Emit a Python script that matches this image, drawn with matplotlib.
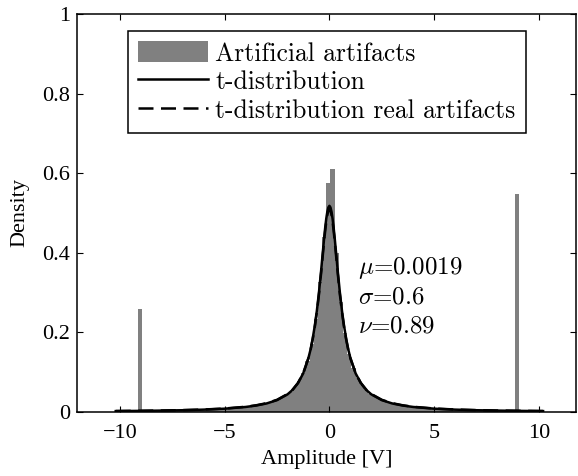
import numpy as np
import matplotlib.pyplot as plt
from matplotlib.patches import Patch
from matplotlib.lines import Line2D

plt.rcParams['mathtext.fontset'] = 'cm'

# histogram of artificial artifacts, bin width 0.2
bin_width = 0.2
hist_left = [0.001, 0.002, 0.002, 0.002, 0.002, 0.26, 0.0029, 0.0030, 0.0031, 0.0033,
             0.0034, 0.0036, 0.0038, 0.0040, 0.0042, 0.0044, 0.0046, 0.0049, 0.0052, 0.0055,
             0.0058, 0.0062, 0.0066, 0.0071, 0.0076, 0.0082, 0.0087, 0.0094, 0.0103, 0.0112,
             0.0123, 0.0136, 0.0150, 0.0166, 0.0185, 0.0208, 0.0235, 0.027, 0.031, 0.036,
             0.042, 0.051, 0.062, 0.077, 0.097, 0.127, 0.170, 0.234, 0.326, 0.44, 0.575]
hist_right = [0.61, 0.40, 0.276, 0.199, 0.146, 0.110, 0.086, 0.069, 0.056, 0.046,
              0.039, 0.033, 0.029, 0.025, 0.022, 0.0196, 0.0175, 0.0157, 0.0142, 0.0129,
              0.0117, 0.0107, 0.0098, 0.0091, 0.0084, 0.0079, 0.0073, 0.0068, 0.0064, 0.0060,
              0.0057, 0.0053, 0.0050, 0.0048, 0.0045, 0.0043, 0.0041, 0.0039, 0.0037, 0.0035,
              0.0034, 0.0032, 0.0031, 0.0030, 0.547, 0.002, 0.002, 0.002, 0.002, 0.001]
hist_heights = hist_left + hist_right
first_center = -10.05

# fitted t-distribution (solid)
t_x = [-10.2, -9, -8, -7, -6, -5, -4, -3.5, -3, -2.5, -2, -1.75, -1.5, -1.25, -1.0, -0.9,
       -0.8, -0.7, -0.6, -0.5, -0.4, -0.3, -0.25, -0.2, -0.15, -0.1, -0.05, 0,
       0.05, 0.1, 0.15, 0.2, 0.25, 0.3, 0.4, 0.5, 0.6, 0.7, 0.8, 0.9, 1.0, 1.25,
       1.5, 1.75, 2, 2.5, 3, 3.5, 4, 5, 6, 7, 8, 9, 10.2]
t_y = [0.0022, 0.0028, 0.0035, 0.0044, 0.0059, 0.0083, 0.0126, 0.0162, 0.0214, 0.0298, 0.0443,
       0.0558, 0.0724, 0.0971, 0.136, 0.157, 0.184, 0.216, 0.254, 0.300, 0.353, 0.410, 0.438,
       0.464, 0.486, 0.503, 0.514, 0.518,
       0.514, 0.503, 0.486, 0.464, 0.438, 0.410, 0.353, 0.300, 0.254, 0.216, 0.184, 0.157,
       0.136, 0.0971, 0.0724, 0.0558, 0.0443, 0.0298, 0.0214, 0.0162, 0.0126, 0.0083,
       0.0059, 0.0044, 0.0035, 0.0028, 0.0022]

# t-distribution of the real artifacts (dashed)
r_y = [0.0024, 0.0030, 0.0037, 0.0047, 0.0062, 0.0087, 0.0131, 0.0168, 0.0221, 0.0306, 0.0452,
       0.0566, 0.0731, 0.0975, 0.135, 0.156, 0.182, 0.213, 0.250, 0.295, 0.347, 0.403, 0.431,
       0.456, 0.478, 0.495, 0.506, 0.510,
       0.506, 0.495, 0.478, 0.456, 0.431, 0.403, 0.347, 0.295, 0.250, 0.213, 0.182, 0.156,
       0.135, 0.0975, 0.0731, 0.0566, 0.0452, 0.0306, 0.0221, 0.0168, 0.0131, 0.0087,
       0.0062, 0.0047, 0.0037, 0.0030, 0.0024]

params = [r'$\mu$=0.0019', r'$\sigma$=0.6', r'$\nu$=0.89']

centers = first_center + bin_width * np.arange(len(hist_heights))

fig = plt.figure(figsize=(5.78, 4.76), dpi=100)
ax = fig.add_axes([0.1332, 0.1345, 0.8633, 0.8361])

ax.bar(centers, hist_heights, width=bin_width, color='#808080', linewidth=0)
ax.plot(t_x, t_y, color='black', linewidth=1.8)
ax.plot(t_x, r_y, color='black', linewidth=1.8, linestyle=(0, (6, 3)))

ax.set_xlim(-12.05, 11.77)
ax.set_ylim(0, 1)
ax.set_xticks([-10, -5, 0, 5, 10])
ax.set_xticklabels(['\u221210', '\u22125', '0', '5', '10'])
ax.set_yticks([0, 0.2, 0.4, 0.6, 0.8, 1])
ax.set_yticklabels(['0', '0.2', '0.4', '0.6', '0.8', '1'])
ax.tick_params(direction='in', length=4, width=0.8, top=True, right=True, labelsize=16)
ax.tick_params(axis='x', pad=9)
ax.tick_params(axis='y', pad=5)
for lab in ax.get_xticklabels() + ax.get_yticklabels():
    lab.set_fontfamily('Liberation Serif')
for s in ax.spines.values():
    s.set_linewidth(1.1)

ax.set_xlabel('Amplitude [V]', fontsize=16, family='Liberation Serif', labelpad=5)
ax.set_ylabel('Density', fontsize=16, family='Liberation Serif', labelpad=9)

for i, txt in enumerate(params):
    ax.text(1.36, 0.362 - 0.073 * i, txt, fontsize=18, family='cmr10', va='center')

handles = [Patch(facecolor='#808080', edgecolor='none'),
           Line2D([], [], color='black', linewidth=1.8),
           Line2D([], [], color='black', linewidth=1.8, linestyle=(0, (6, 3)))]
labels = ['Artificial artifacts', 't-distribution', 't-distribution real artifacts']
leg = ax.legend(handles, labels, loc='upper left', bbox_to_anchor=(0.102, 0.957),
                borderaxespad=0, fancybox=False, framealpha=1, edgecolor='black',
                prop={'family': 'cmr10', 'size': 18.5}, handlelength=2.7,
                handleheight=0.85, handletextpad=0.3, labelspacing=0.17,
                borderpad=0.4)
leg.get_frame().set_linewidth(1.1)

fig.savefig('out.png', dpi=100)
